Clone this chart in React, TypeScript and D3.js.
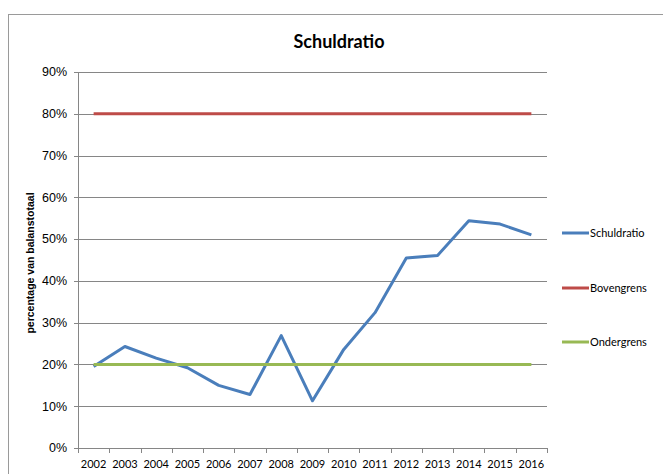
import React from 'react';
import * as d3 from 'd3';

const years = ['2002', '2003', '2004', '2005', '2006', '2007', '2008', '2009', '2010', '2011', '2012', '2013', '2014', '2015', '2016'];
const schuldratio = [19.5, 24.3, 21.5, 19.2, 15.0, 12.8, 26.9, 11.3, 23.6, 32.4, 45.5, 46.1, 54.4, 53.6, 51.0];
const bovengrens = [80, 80, 80, 80, 80, 80, 80, 80, 80, 80, 80, 80, 80, 80, 80];
const ondergrens = [20, 20, 20, 20, 20, 20, 20, 20, 20, 20, 20, 20, 20, 20, 20];
const yTicks = [0, 10, 20, 30, 40, 50, 60, 70, 80, 90];

const seriesList = [
    { name: 'Schuldratio', values: schuldratio, color: '#4A7EBB' },
    { name: 'Bovengrens', values: bovengrens, color: '#BE4B48' },
    { name: 'Ondergrens', values: ondergrens, color: '#98B954' },
];

const width = 663, height = 474;
const plot = { left: 78, right: 547, top: 72, bottom: 448 };
const gridColor = '#868686';
const calibri = 'Lato, "Open Sans", sans-serif';
const arial = '"Liberation Sans", Arial, sans-serif';

export default function App() {
    const xScale = d3.scaleBand<string>()
        .domain(years)
        .range([plot.left, plot.right])
        .paddingInner(0)
        .paddingOuter(0);

    const yScale = d3.scaleLinear()
        .domain([0, 90])
        .range([plot.bottom, plot.top]);

    const line = d3.line<number>()
        .x((d, i) => xScale(years[i])! + xScale.bandwidth() / 2)
        .y(d => yScale(d));

    // boundaries between categories, for the x tick marks
    const xBounds = years.map(y => xScale(y)!).concat([plot.right]);

    const legendY = [233, 288, 342];

    return (
        <div style={{ position: 'absolute', left: 0, top: 0 }}>
            <svg width={width} height={height} style={{ display: 'block' }}>
                <rect x={0} y={0} width={width} height={height} fill="#fff" />
                {/* chart frame */}
                <rect x={8.5} y={14.5} width={720} height={520} fill="none" stroke="#9a9a9a" strokeWidth={1} />

                <text x={339} y={48} textAnchor="middle" fontFamily={calibri} fontWeight="bold" fontSize={18} fill="#000">
                    Schuldratio
                </text>

                {/* gridlines */}
                {yTicks.map(t => (
                    <line key={'g' + t} x1={plot.left - 4} x2={plot.right} y1={Math.round(yScale(t)) + 0.5} y2={Math.round(yScale(t)) + 0.5}
                        stroke={gridColor} strokeWidth={1} />
                ))}
                {/* y axis */}
                <line x1={plot.left + 0.5} x2={plot.left + 0.5} y1={plot.top} y2={plot.bottom} stroke={gridColor} strokeWidth={1} />
                {yTicks.map(t => (
                    <text key={'yl' + t} x={67} y={yScale(t)} dy="0.35em" textAnchor="end" fontFamily={arial} fontSize={12.5} fill="#000">
                        {t}%
                    </text>
                ))}
                <text transform={`translate(34,263) rotate(-90)`} textAnchor="middle"
                    fontFamily={arial} fontWeight="bold" fontSize={10.5} fill="#000">
                    percentage van balanstotaal
                </text>

                {/* x axis */}
                {xBounds.map((x, i) => (
                    <line key={'xt' + i} x1={Math.round(x) + 0.5} x2={Math.round(x) + 0.5} y1={plot.bottom} y2={plot.bottom + 5}
                        stroke={gridColor} strokeWidth={1} />
                ))}
                {years.map(y => (
                    <text key={'xl' + y} x={xScale(y)! + xScale.bandwidth() / 2} y={468} textAnchor="middle"
                        fontFamily={calibri} fontSize={11} fill="#000">
                        {y}
                    </text>
                ))}

                {/* series */}
                {seriesList.map(s => (
                    <path key={s.name} d={line(s.values)!} fill="none" stroke={s.color} strokeWidth={3}
                        strokeLinejoin="round" />
                ))}

                {/* legend */}
                {seriesList.map((s, i) => (
                    <g key={'lg' + s.name}>
                        <line x1={562} x2={589} y1={legendY[i]} y2={legendY[i]} stroke={s.color} strokeWidth={3} />
                        <text x={590} y={legendY[i]} dy="0.35em" fontFamily={calibri} fontSize={11} fill="#000">
                            {s.name}
                        </text>
                    </g>
                ))}
            </svg>
        </div>
    );
}
